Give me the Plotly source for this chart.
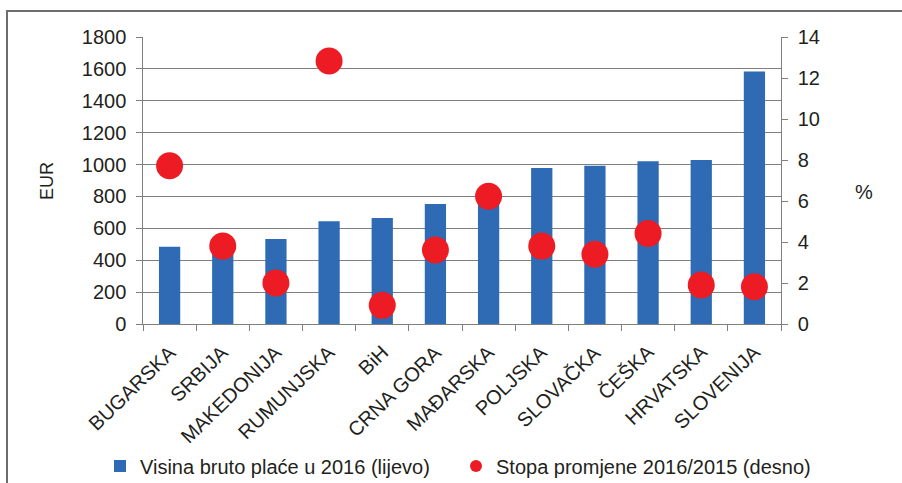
import plotly.graph_objects as go

categories = ["BUGARSKA", "SRBIJA", "MAKEDONIJA", "RUMUNJSKA", "BiH", "CRNA GORA",
              "MAĐARSKA", "POLJSKA", "SLOVAČKA", "ČEŠKA", "HRVATSKA", "SLOVENIJA"]
wages_eur = [485, 516, 533, 644, 665, 752, 845, 978, 993, 1020, 1028, 1584]
growth_pct = [7.72, 3.8, 2.0, 12.83, 0.91, 3.61, 6.23, 3.8, 3.4, 4.42, 1.9, 1.82]

bar_name = "Visina bruto plaće u 2016 (lijevo)"
dot_name = "Stopa promjene 2016/2015 (desno)"

FONT = "Liberation Sans, Arial, sans-serif"
TXT = "#231F20"
GRID = "#7f7f7f"

fig = go.Figure()
fig.add_trace(go.Bar(x=categories, y=wages_eur, name=bar_name, legend="legend",
                     marker=dict(color="#2E6BB4", line=dict(width=0)), yaxis="y"))
fig.add_trace(go.Scatter(x=categories, y=growth_pct, name=dot_name, mode="markers",
                         legend="legend2",
                         marker=dict(color="#ED1C24", size=27), yaxis="y2"))

W, H = 902, 483
L, R, T, B = 143, 781, 37, 324
pw, ph = R - L, B - T

def px(x):
    return (x - L) / pw

def py(y):
    return (B - y) / ph

legend_common = dict(orientation="h", y=py(466), xanchor="left", yanchor="middle",
                     font=dict(size=20, family=FONT, color=TXT), itemsizing="constant",
                     bgcolor="rgba(0,0,0,0)", borderwidth=0)

cat_annotations = [
    dict(text=c, x=i, xref="x", y=py(338), yref="paper", xanchor="right", yanchor="top",
         xshift=13, textangle=-44, showarrow=False,
         font=dict(size=20, family=FONT, color=TXT))
    for i, c in enumerate(categories)
]

fig.update_layout(
    template="none",
    width=W, height=H,
    margin=dict(l=L, r=W - R, t=T, b=H - B, pad=0, autoexpand=False),
    paper_bgcolor="white", plot_bgcolor="white",
    font=dict(family=FONT, color=TXT, size=17),
    bargap=0.6,
    showlegend=True,
    legend=dict(x=px(100), **legend_common),
    legend2=dict(x=px(456), **legend_common),
    xaxis=dict(type="category", categoryorder="array", categoryarray=categories,
               range=[-0.5, len(categories) - 0.5], autorange=False,
               automargin=False, showgrid=False, showline=True,
               linecolor=GRID, linewidth=1.3, showticklabels=False,
               ticks="outside", tickson="boundaries", ticklen=6, tickcolor=GRID, tickwidth=1.3),
    yaxis=dict(range=[0, 1800], dtick=200, automargin=False, showgrid=True, gridcolor=GRID,
               gridwidth=1, showline=True, linecolor=GRID, linewidth=1.3, ticks="outside",
               ticklen=6, tickcolor=GRID, tickwidth=1.3, ticksuffix=" ",
               tickfont=dict(size=20, family=FONT, color=TXT), zeroline=False),
    yaxis2=dict(range=[0, 14], dtick=2, overlaying="y", side="right", automargin=False,
                showgrid=False, showline=True, linecolor=GRID, linewidth=1.3, ticks="outside",
                ticklen=6, tickcolor=GRID, tickwidth=1.3, tickprefix=" ",
                tickfont=dict(size=20, family=FONT, color=TXT), zeroline=False),
    annotations=cat_annotations + [
        dict(text="EUR", x=px(47), y=py(181), xref="paper", yref="paper", showarrow=False,
             xanchor="center", yanchor="middle",
             textangle=-90, font=dict(size=18, family=FONT, color=TXT)),
        dict(text="%", x=px(864), y=py(192), xref="paper", yref="paper", showarrow=False,
             xanchor="center", yanchor="middle",
             font=dict(size=20, family=FONT, color=TXT)),
    ],
    shapes=[
        dict(type="rect", xref="paper", yref="paper", x0=px(7), x1=px(910), y0=py(500), y1=py(11),
             line=dict(color="#6d6d6d", width=2), fillcolor="rgba(0,0,0,0)", layer="above"),
    ],
)

fig.write_html("out.html")
